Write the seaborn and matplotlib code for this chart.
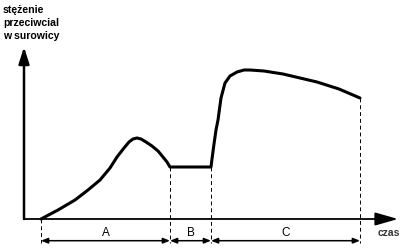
import matplotlib
matplotlib.use("Agg")
import matplotlib.pyplot as plt
from matplotlib.patches import FancyArrowPatch
import seaborn as sns
import pandas as pd

# data (time, concentration)
time_pts = [17, 34, 51, 64, 76, 86, 93, 100, 105, 109, 113, 117, 122, 128, 134, 139, 143, 146,
            187, 188, 190, 192, 194, 197, 201, 206, 213, 220, 226, 240, 259, 276, 293, 315, 336]
conc_pts = [0, 9, 19, 29, 39, 51, 62, 71, 77, 80, 81, 80, 77, 73, 68, 62, 57, 52,
            52, 60, 75, 89, 99, 121, 136, 143, 147, 149, 149, 148, 145, 141, 137, 130, 121]
phase_bounds = [17, 146, 187, 336]
phase_labels = ["A", "B", "C"]
y_label = "stężenie\nprzeciwcial\nw surowicy"
x_label = "czas"

sns.set_theme(style="white")
plt.rcParams['font.family'] = ['Liberation Sans', 'DejaVu Sans']

fig = plt.figure(figsize=(4.1, 2.48), dpi=100)
ax = fig.add_axes([0, 0, 1, 1])
ax.set_xlim(-24, 386)
ax.set_ylim(-29, 219)
ax.axis("off")

df = pd.DataFrame({"t": time_pts, "c": conc_pts})
sns.lineplot(data=df, x="t", y="c", sort=False, color="black", linewidth=2.2, ax=ax)
ax.lines[-1].set_solid_joinstyle("round")
ax.lines[-1].set_solid_capstyle("round")

# main axes arrows
ax.add_patch(FancyArrowPatch((0, 0), (0, 172), arrowstyle="-|>,head_length=10,head_width=3.2",
                             mutation_scale=1, lw=1.8, color="black", shrinkA=0, shrinkB=0))
ax.add_patch(FancyArrowPatch((0, 0), (374, 0), arrowstyle="-|>,head_length=14,head_width=4",
                             mutation_scale=1, lw=1.3, color="black", shrinkA=0, shrinkB=0))

# dashed guides
top_vals = []
for b in phase_bounds:
    idx = [i for i, t in enumerate(time_pts) if t == b]
    top_vals.append(min(conc_pts[i] for i in idx) if idx else 0)
for b, top in zip(phase_bounds, top_vals):
    ax.plot([b, b], [top, -24], color="black", lw=0.7, ls=(0, (4, 3)))

# dimension arrows
dim_y = -21.7
for i, lab in enumerate(phase_labels):
    a, b = phase_bounds[i], phase_bounds[i + 1]
    ax.add_patch(FancyArrowPatch((a, dim_y), (b, dim_y),
                                 arrowstyle="<|-|>,head_length=4,head_width=1.6",
                                 mutation_scale=1, lw=1.1, color="black", shrinkA=0, shrinkB=0))
    ax.text((a + b) / 2, -13.5, lab, ha="center", va="center",
            fontsize=8.5, color="black")

ax.text(365, -14, x_label, ha="center", va="center", fontsize=7.5, color="#333333", fontweight="bold")
ax.text(-21, 214, y_label, ha="left", va="top", fontsize=7.6, fontweight="bold",
        color="black", linespacing=1.4)

fig.savefig("out.png", dpi=100)
